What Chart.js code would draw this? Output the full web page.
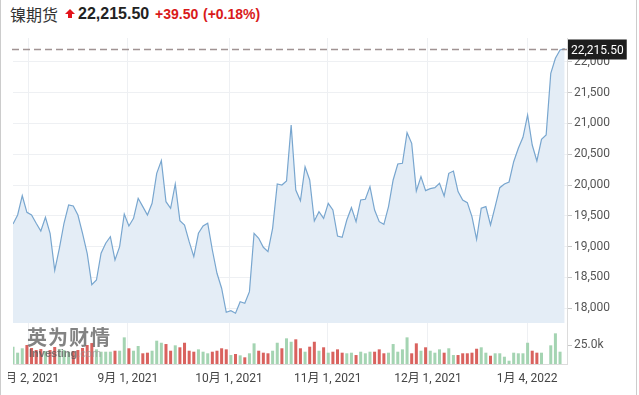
<!DOCTYPE html>
<html>
<head>
<meta charset="utf-8">
<script src="https://cdn.jsdelivr.net/npm/chart.js@4"></script>
<style>
body { margin: 0; background: #fff; }
#wrap { position: relative; width: 635px; height: 395px; border-left: 1px solid #ccc; border-right: 1px solid #ccc; overflow: hidden; }
.hd { position: absolute; top: 4px; line-height: 20px; white-space: nowrap; font-family: Arial, "Liberation Sans", sans-serif; }
#name { left: 9px; font-size: 16px; color: #333; font-family: "Noto Sans CJK SC", sans-serif; }
#arrow { position: absolute; left: 64px; top: 9px; width: 0; height: 0; border-left: 5px solid transparent; border-right: 5px solid transparent; border-bottom: 5px solid #e3141b; }
#stem { position: absolute; left: 67px; top: 14px; width: 4px; height: 4px; background: #e3141b; }
#last { left: 77px; font-size: 16px; font-weight: bold; color: #222; }
#chg { left: 154px; font-size: 14px; font-weight: bold; color: #d91a1a; }
#pct { left: 202px; font-size: 14px; font-weight: bold; color: #d91a1a; }
#box { position: absolute; left: 7px; top: 30px; width: 628px; height: 365px; }
#wm { position: absolute; left: 26px; top: 326px; color: rgba(90,90,90,0.75); pointer-events: none; }
#wm1 { font-family: "Noto Sans CJK SC", sans-serif; font-weight: bold; font-size: 20px; line-height: 22px; letter-spacing: 1px; }
#wm2 { font-family: Arial, sans-serif; font-weight: bold; font-size: 11px; line-height: 10px; margin-left: 2px; }
#wm2 span { font-weight: normal; color: rgba(150,150,150,0.7); }
</style>
</head>
<body>
<div id="wrap">
  <div class="hd" id="name">镍期货</div>
  <div id="arrow"></div><div id="stem"></div>
  <div class="hd" id="last">22,215.50</div>
  <div class="hd" id="chg">+39.50</div>
  <div class="hd" id="pct">(+0.18%)</div>
  <div id="box"><canvas id="chart"></canvas></div>
  <div id="wm"><div id="wm1">英为财情</div><div id="wm2">Investing<span>.com</span></div></div>
</div>
<script>
// daily closing prices
const prices = [
  19368,19514,19827,19558,19514,19380,19254,19477,19217,18617,
  18974,19380,19677,19660,19514,19217,18893,18383,18459,18893,
  19055,19162,18784,19000,19530,19336,19460,19785,19650,19514,
  19704,20191,20396,19730,19623,20017,19422,19352,19081,18838,
  19217,19336,19380,18946,18568,18325,17935,17961,17919,18107,
  18081,18270,19217,19136,18990,18919,19298,20017,20001,20066,
  20975,19920,19746,20298,20082,19417,19568,19460,19704,19595,
  19173,19152,19433,19633,19406,19758,19769,19974,19595,19406,
  19363,19650,20082,20342,20353,20850,20678,19904,20136,19909,
  19941,19957,20029,19822,20191,20228,19893,19758,19714,19487,
  19120,19623,19650,19352,19650,19957,20017,20050,20379,20597,
  20775,21137,20650,20391,20743,20813,21814,22058,22193,22215.5
];

// daily volume
const volumes = [
  22800,14900,20700,25000,21100,18400,19700,17100,18400,22400,
  19700,18400,15800,17100,18400,21100,25000,27600,19300,16200,
  16200,16200,17500,17500,35100,20700,17500,23700,14100,14900,
  17500,30700,28000,26300,17500,24600,22000,28000,17500,16200,
  19300,16200,14100,16200,17500,20700,19300,11800,13200,11400,
  8800,14100,27200,17500,14900,14100,17500,28000,20700,33800,
  29300,32500,20700,16200,22800,29300,17500,22000,14900,16200,
  19300,14900,14100,14900,11800,16200,14100,16200,16200,19300,
  14100,14900,26300,16200,19300,35100,14100,27200,17500,22000,
  17500,14900,19300,14900,20700,11800,11800,14100,14100,14900,
  20100,22000,14900,10900,14100,14100,9600,4300,14900,14100,
  14100,28000,17500,14900,14900,null,24600,40400,16200,null
];

const priceTicks = [18000, 18500, 19000, 19500, 20000, 20500, 21000, 21500, 22000];
const volTicks = [25000];
const dateLabels = ['8月 2, 2021', '9月 1, 2021', '10月 1, 2021', '11月 1, 2021', '12月 1, 2021', '1月 4, 2022'];
const datePos = [3.4, 24.8, 46.6, 67.9, 89.5, 110.9];
const lastLabel = '22,215.50';

const gridColor = '#eef0f3';
const axisColor = '#dcdcdc';

const barColors = volumes.map((v, i) => (i > 0 && prices[i] < prices[i - 1]) ? '#d9625e' : '#a4d4b2');

const lastPrice = {
  id: 'lastPrice',
  afterDraw(chart) {
    const { ctx, chartArea, scales } = chart;
    const y = Math.round(scales.y.getPixelForValue(prices[prices.length - 1])) + 0.5;
    ctx.save();
    ctx.strokeStyle = 'rgba(150,135,135,0.9)';
    ctx.lineWidth = 1.5;
    ctx.setLineDash([7, 4]);
    ctx.beginPath();
    ctx.moveTo(chartArea.left - 1, y);
    ctx.lineTo(chartArea.right, y);
    ctx.stroke();
    ctx.setLineDash([]);
    ctx.font = '12px Roboto, Arial, sans-serif';
    const w = ctx.measureText(lastLabel).width + 6;
    ctx.fillStyle = '#1d1d1d';
    ctx.fillRect(chartArea.right + 1, y - 10, w, 20);
    ctx.fillStyle = '#fff';
    ctx.textBaseline = 'middle';
    ctx.fillText(lastLabel, chartArea.right + 4, y + 1);
    ctx.restore();
  }
};

new Chart(document.getElementById('chart'), {
  data: {
    datasets: [{
      type: 'line',
      data: prices.map((v, i) => ({ x: i, y: v })),
      yAxisID: 'y',
      borderColor: '#78a6cf',
      borderWidth: 1.2,
      backgroundColor: '#e4edf6',
      fill: 'start',
      pointRadius: 0,
      tension: 0
    }, {
      type: 'bar',
      data: volumes.map((v, i) => ({ x: i, y: v })),
      yAxisID: 'yVol',
      backgroundColor: barColors,
      barPercentage: 0.65,
      categoryPercentage: 1
    }]
  },
  options: {
    responsive: true,
    maintainAspectRatio: false,
    animation: false,
    layout: { padding: { left: 5, top: 8, right: 0, bottom: 0 } },
    plugins: { legend: { display: false }, tooltip: { enabled: false } },
    scales: {
      x: {
        type: 'linear',
        offset: false,
        min: 0,
        max: 119.5,
        grid: { color: gridColor, drawTicks: false, offset: false },
        border: { color: axisColor },
        afterBuildTicks: s => { s.ticks = datePos.map(v => ({ value: v })); },
        ticks: {
          callback: (v, i) => dateLabels[i],
          color: '#444',
          font: { size: 12, family: 'Roboto, "Noto Sans CJK SC", Arial' },
          padding: 8,
          maxRotation: 0,
          autoSkip: false
        },
        afterFit: s => { s.paddingLeft = 0; s.paddingRight = 0; s.height = 31; }
      },
      y: {
        position: 'right',
        stack: 'v',
        stackWeight: 285,
        min: 17761,
        max: 22387,
        grid: { color: gridColor, tickLength: 5, tickColor: '#c8c8c8' },
        border: { color: axisColor },
        afterBuildTicks: s => { s.ticks = priceTicks.map(v => ({ value: v })); },
        ticks: {
          callback: v => v.toLocaleString('en-US'),
          color: '#555',
          font: { size: 12, family: 'Roboto, Arial' },
          padding: 2
        },
        afterFit: s => { s.width = 69; s.paddingTop = 0; s.paddingBottom = 0; }
      },
      yVol: {
        position: 'right',
        stack: 'v',
        stackWeight: 41,
        min: 0,
        max: 54000,
        grid: { drawOnChartArea: false, tickLength: 5, tickColor: '#c8c8c8' },
        border: { color: axisColor },
        afterBuildTicks: s => { s.ticks = volTicks.map(v => ({ value: v })); },
        ticks: {
          callback: v => (v / 1000).toFixed(1) + 'k',
          color: '#555',
          font: { size: 12, family: 'Roboto, Arial' },
          padding: 2
        },
        afterFit: s => { s.width = 69; s.paddingTop = 0; s.paddingBottom = 0; }
      }
    }
  },
  plugins: [lastPrice]
});
</script>
</body>
</html>
